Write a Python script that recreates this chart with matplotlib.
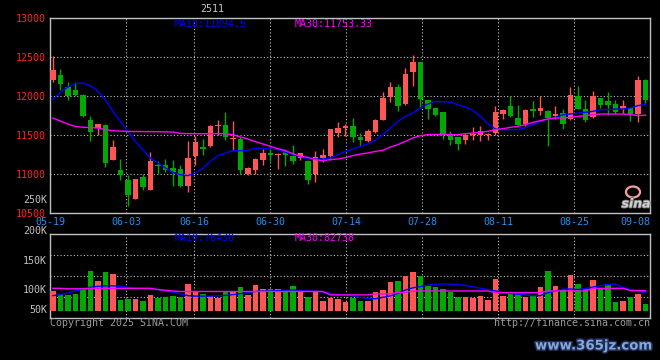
import numpy as np
import matplotlib
matplotlib.use("Agg")
import matplotlib.pyplot as plt
from matplotlib import patheffects
from matplotlib.patches import Ellipse

label_dates = ["05-19", "06-03", "06-16", "06-30", "07-14",
               "07-28", "08-11", "08-25", "09-08"]
label_index = [0, 10, 19, 29, 39, 49, 59, 69, 79]   # trading-day index of each date label

opens = [12205, 12274, 12111, 12081, 12017, 11697, 11590, 11632, 11184, 11055,
         10927, 10683, 10957, 10790, 11119, 11120, 11077, 11068, 10842, 11235,
         11350, 11355, 11620, 11632, 11455, 11449, 10996, 11047, 11184, 11270,
         11245, 11278, 11227, 11205, 11171, 10996, 11201, 11235, 11530, 11590,
         11611, 11474, 11419, 11543, 11697, 11983, 12111, 11897, 12303, 12432,
         11953, 11846, 11791, 11504, 11474, 11440, 11495, 11504, 11498, 11526,
         11773, 11868, 11718, 11645, 11838, 11812, 11803, 11749, 11782, 11709,
         12004, 11838, 11726, 11974, 11932, 11902, 11833, 11846, 11773, 12209]
highs = [12508, 12346, 12180, 12180, 12021, 11740, 11645, 11645, 11440, 11192,
         10991, 10940, 11000, 11277, 11162, 11196, 11184, 11110, 11419, 11491,
         11449, 11625, 11688, 11791, 11675, 11470, 11085, 11200, 11320, 11342,
         11270, 11320, 11376, 11275, 11175, 11299, 11320, 11580, 11662, 11645,
         11718, 11525, 11577, 11700, 12056, 12180, 12150, 12355, 12530, 12435,
         11955, 11850, 11795, 11555, 11478, 11525, 11598, 11620, 11525, 11876,
         11830, 11996, 11889, 11830, 11932, 11996, 11825, 11876, 11833, 12111,
         12132, 11953, 12068, 11978, 12047, 11953, 11953, 11860, 12261, 12215]
lows = [12185, 12081, 11944, 12000, 11731, 11418, 11504, 11090, 11183, 10918,
        10585, 10683, 10790, 10790, 11000, 11030, 10842, 10835, 10765, 11120,
        11248, 11350, 11504, 11432, 11312, 11004, 10990, 11004, 11120, 11171,
        11070, 11098, 11130, 11180, 10867, 10893, 11160, 11184, 11480, 11483,
        11406, 11355, 11410, 11530, 11690, 11919, 11812, 11890, 12132, 11846,
        11705, 11740, 11450, 11367, 11303, 11389, 11440, 11419, 11432, 11500,
        11705, 11735, 11625, 11611, 11726, 11760, 11355, 11705, 11581, 11690,
        11835, 11662, 11720, 11850, 11761, 11770, 11780, 11675, 11662, 11902]
closes = [12335, 12154, 12004, 12017, 11738, 11533, 11645, 11141, 11346, 10982,
          10726, 10940, 10828, 11162, 11106, 11047, 11026, 10842, 11209, 11415,
          11316, 11620, 11632, 11474, 11465, 11047, 11081, 11197, 11273, 11250,
          11252, 11244, 11171, 11273, 10919, 11218, 11244, 11577, 11594, 11610,
          11474, 11440, 11547, 11697, 11979, 12111, 11868, 12286, 12432, 11962,
          11833, 11761, 11504, 11440, 11389, 11504, 11505, 11547, 11506, 11791,
          11825, 11739, 11632, 11825, 11803, 11846, 11718, 11770, 11645, 12017,
          11838, 11697, 11996, 11889, 11889, 11791, 11868, 11773, 12209, 11944]
ma10 = [11953, 12047, 12115, 12158, 12167, 12132, 12060, 11953, 11803, 11675,
        11547, 11419, 11312, 11205, 11141, 11077, 11021, 10991, 10979, 11013,
        11077, 11162, 11235, 11269, 11299, 11299, 11305, 11329, 11329, 11320,
        11312, 11278, 11248, 11226, 11192, 11192, 11192, 11205, 11248, 11290,
        11320, 11355, 11385, 11432, 11504, 11590, 11675, 11739, 11782, 11846,
        11897, 11932, 11927, 11921, 11889, 11859, 11816, 11739, 11645, 11577,
        11568, 11568, 11568, 11590, 11632, 11675, 11705, 11726, 11761, 11769,
        11782, 11791, 11803, 11825, 11825, 11833, 11833, 11846, 11876, 11894]
ma30 = [11718, 11680, 11640, 11610, 11600, 11595, 11590, 11570, 11555, 11550,
        11546, 11545, 11544, 11543, 11542, 11540, 11538, 11520, 11518, 11517,
        11517, 11517, 11518, 11517, 11504, 11474, 11449, 11414, 11385, 11355,
        11325, 11299, 11261, 11226, 11214, 11184, 11171, 11184, 11192, 11210,
        11235, 11256, 11269, 11290, 11303, 11346, 11376, 11419, 11462, 11491,
        11504, 11508, 11508, 11506, 11504, 11517, 11526, 11534, 11547, 11568,
        11581, 11598, 11611, 11632, 11662, 11684, 11705, 11718, 11718, 11726,
        11739, 11748, 11761, 11769, 11769, 11769, 11769, 11761, 11750, 11753]

# volume in thousands of lots
volume = [80, 69, 67, 69, 95, 166, 122, 158, 153, 44,
          48, 48, 40, 67, 55, 59, 63, 59, 111, 82,
          69, 63, 55, 82, 82, 99, 65, 107, 92, 92,
          90, 86, 103, 82, 59, 80, 40, 55, 48, 38,
          55, 42, 42, 76, 86, 120, 122, 145, 158, 143,
          103, 99, 90, 76, 59, 59, 55, 61, 44, 130,
          63, 76, 71, 59, 61, 99, 162, 101, 90, 147,
          111, 90, 126, 90, 111, 38, 42, 59, 69, 29]
vol_ma10 = [63, 67, 74, 82, 90, 97, 101, 103, 103, 101,
            97, 93, 92, 92, 88, 82, 78, 70, 63, 61,
            61, 61, 62, 64, 67, 71, 75, 80, 82, 82,
            84, 85, 86, 84, 82, 82, 78, 72, 68, 66,
            62, 55, 52, 50, 56, 62, 72, 86, 95, 100,
            106, 109, 111, 110, 109, 104, 99, 93, 88, 82,
            77, 72, 69, 65, 63, 63, 75, 82, 90, 90,
            88, 92, 98, 104, 108, 111, 97, 88, 82, 76]
vol_ma30 = [93, 93, 91, 91, 91, 93, 93, 93, 93, 93,
            93, 93, 93, 93, 88, 85, 82, 80, 80, 80,
            80, 80, 80, 80, 80, 80, 80, 80, 80, 80,
            80, 80, 80, 80, 80, 80, 80, 66, 66, 66,
            66, 66, 66, 70, 70, 70, 76, 76, 82, 82,
            82, 82, 82, 82, 82, 82, 82, 82, 82, 75,
            75, 75, 75, 75, 75, 75, 82, 82, 82, 82,
            82, 82, 93, 93, 93, 93, 93, 84, 84, 83]

price_ticks = [10500, 11000, 11500, 12000, 12500, 13000]
vol_labels = ["250K", "200K", "150K", "100K", "50K"]

# ---- style ----
W, H = 660, 360
MONO = "DejaVu Sans Mono"
FS = 7.2
UP, DOWN = "#FF5555", "#00A800"
GRID = "#C0C0C0"
plt.rcParams["font.family"] = MONO

fig = plt.figure(figsize=(W / 100, H / 100), dpi=100, facecolor="black")


def px_text(x, y, s, color, ha="left", **kw):
    """Put text at pixel position (x, y) measured from the top-left corner."""
    return fig.text(x / W, 1 - y / H, s, color=color, ha=ha, va="center",
                    fontsize=kw.pop("fontsize", FS), family=kw.pop("family", MONO), **kw)


ax_p = fig.add_axes([50 / W, 1 - 213 / H, 600 / W, 195 / H], facecolor="black")
ax_v = fig.add_axes([50 / W, 1 - 318.3 / H, 600 / W, 84 / H], facecolor="black")

n = len(closes)
x = np.arange(n)
o, h, l, c = map(np.asarray, (opens, highs, lows, closes))
colors = [UP if ci >= oi else DOWN for oi, ci in zip(o, c)]
x0, x1 = -0.38, n - 0.38
# the date grid spreads first..last date over the full panel width
grid_x = [x0 + (x1 - x0) * i / (n - 1) for i in label_index]

for ax in (ax_p, ax_v):
    ax.set_xlim(x0, x1)
    for s in ax.spines.values():
        s.set_color(GRID)
        s.set_linewidth(1.0)
    for gx in grid_x[1:-1]:
        ax.axvline(gx, color=GRID, lw=0.8, ls=(0, (1, 2)), zorder=0)

# ---- price panel ----
ax_p.set_ylim(price_ticks[0], price_ticks[-1])
for yv in price_ticks[1:-1]:
    ax_p.axhline(yv, color=GRID, lw=0.8, ls=(0, (1, 2)), zorder=0)
ax_p.vlines(x, l, h, colors=colors, lw=1.0, zorder=2)
body = np.maximum(np.abs(c - o), 12)
ax_p.bar(x, body, bottom=np.minimum(o, c), width=0.76, color=colors, lw=0, zorder=3)
ax_p.plot(x, ma10, color="#0000FF", lw=1.0, zorder=4)
ax_p.plot(x, ma30, color="#FF00FF", lw=1.0, zorder=4)

ax_p.set_yticks(price_ticks)
ax_p.set_yticklabels([str(t) for t in price_ticks])
ax_p.tick_params(axis="y", length=0, pad=3, labelcolor="#FF2222", labelsize=FS)
ax_p.set_xticks(grid_x)
ax_p.set_xticklabels(label_dates)
ax_p.tick_params(axis="x", length=0, pad=2.8, labelcolor="#2090F0", labelsize=FS)
ax_p.get_xticklabels()[-1].set_ha("right")

# ---- volume panel ----
v_lo, v_hi = -30, 314.5
ax_v.set_ylim(v_lo, v_hi)
for f in (0.25, 0.5, 0.75):
    ax_v.axhline(v_lo + (v_hi - v_lo) * f, color=GRID, lw=0.8, ls=(0, (1, 2)), zorder=0)
ax_v.bar(x, volume, width=0.76, color=colors, lw=0, zorder=3)
ax_v.plot(x, vol_ma10, color="#0000FF", lw=1.0, zorder=4)
ax_v.plot(x, vol_ma30, color="#FF00FF", lw=1.0, zorder=4)
ax_v.set_xticks([])
ax_v.set_yticks([])

# ---- texts ----
px_text(212, 9.5, "2511", "#C8C8C8", ha="center")
px_text(175, 24, "MA10:11894.5", "#0000FF")
px_text(295, 24, "MA30:11753.33", "#FF00FF")
px_text(175, 238, "MA10:76430", "#0000FF")
px_text(295, 238, "MA30:82738", "#FF00FF")
for lab, yy in zip(vol_labels, [200, 231, 261, 290, 310]):
    px_text(47, yy, lab, "#C0C0C0", ha="right")
px_text(50, 323, "Copyright 2025 SINA.COM", "#9A9A9A")
px_text(650, 323, "http://finance.sina.com.cn", "#9A9A9A", ha="right")

# sina logo
fig.add_artist(Ellipse((633 / W, 1 - 192 / H), 14 / W, 11 / H, transform=fig.transFigure,
                       fill=False, ec="#F4A0A0", lw=1.6))
px_text(636, 204, "sina", "#D0D0D0", ha="center", fontsize=9, family="DejaVu Sans",
        fontweight="bold", style="italic",
        path_effects=[patheffects.withStroke(linewidth=1.2, foreground="#707070")])

# site watermark
px_text(594, 346, "www.365jz.com", "#86A8D8", ha="center", fontsize=9.6,
        family="DejaVu Sans", fontweight="bold",
        path_effects=[patheffects.withStroke(linewidth=2.2, foreground="#1C2C55")])

fig.savefig("out.png", dpi=100, facecolor="black")
